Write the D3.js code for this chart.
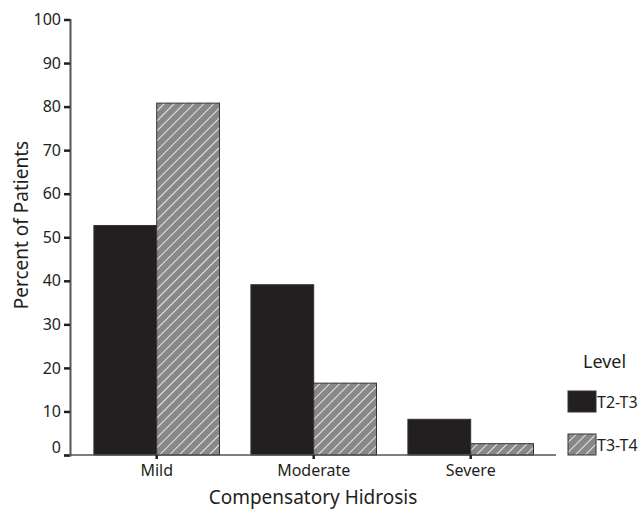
<!DOCTYPE html>
<html><head><meta charset="utf-8">
<script src="https://cdn.jsdelivr.net/npm/d3@7/dist/d3.min.js"></script>
<style>body{margin:0;background:#fff}svg{display:block}text{font-family:"Noto Sans",sans-serif;fill:#231f20}</style>
</head><body>
<script>
const categories = ["Mild", "Moderate", "Severe"];
const seriesNames = ["T2-T3", "T3-T4"];
const t2t3 = [52.7, 39.1, 8.2];
const t3t4 = [80.8, 16.5, 2.6];
const yTicks = [0, 10, 20, 30, 40, 50, 60, 70, 80, 90, 100];

const W = 643, H = 512;
const svg = d3.select("body").append("svg").attr("width", W).attr("height", H);
const defs = svg.append("defs");
const pat = defs.append("pattern").attr("id", "hatch").attr("patternUnits", "userSpaceOnUse")
  .attr("width", 7).attr("height", 7).attr("patternTransform", "rotate(45)");
pat.append("rect").attr("width", 7).attr("height", 7).attr("fill", "#888");
pat.append("line").attr("x1", 0).attr("y1", 0).attr("x2", 0).attr("y2", 7)
  .attr("stroke", "#f2f2f2").attr("stroke-width", 1.8);

const y = d3.scaleLinear().domain([0, 100]).range([455, 19.5]);
const x0 = d3.scaleBand().domain(categories).range([78.2, 549.2]).paddingInner(0.2).paddingOuter(0.1);
const x1 = d3.scaleBand().domain(seriesNames).range([0, x0.bandwidth()]);
const fills = {"T2-T3": "#231f20", "T3-T4": "url(#hatch)"};
const values = {"T2-T3": t2t3, "T3-T4": t3t4};

// bars
const g = svg.append("g");
categories.forEach((c, i) => {
  seriesNames.forEach(s => {
    g.append("rect")
      .attr("x", x0(c) + x1(s)).attr("y", y(values[s][i]))
      .attr("width", x1.bandwidth()).attr("height", y(0) - y(values[s][i]))
      .attr("fill", fills[s]).attr("stroke", "#333").attr("stroke-width", 1);
  });
});

// y axis
const yAxis = svg.append("g").attr("transform", "translate(70,0)")
  .call(d3.axisLeft(y).tickValues(yTicks).tickSize(6).tickPadding(3));
yAxis.select(".domain").attr("stroke", "#555").attr("stroke-width", 2);
yAxis.selectAll(".tick line").attr("stroke", "#231f20").attr("stroke-width", 2.5);
yAxis.selectAll(".tick text").attr("font-size", 16).style("font-family", "Noto Sans").attr("fill", "#231f20")
  .attr("dy", d => d === 0 ? "-0.18em" : "0.32em");

// x axis
svg.append("line").attr("x1", 69).attr("x2", 556).attr("y1", 455).attr("y2", 455)
  .attr("stroke", "#555").attr("stroke-width", 1.5);
const xAxis = svg.append("g").attr("transform", "translate(0,455)")
  .call(d3.axisBottom(x0).tickSize(4).tickPadding(6));
xAxis.select(".domain").remove();
xAxis.selectAll(".tick line").attr("stroke", "#231f20").attr("stroke-width", 2.5);
xAxis.selectAll(".tick text").attr("font-size", 16).style("font-family", "Noto Sans").attr("fill", "#231f20");

// axis titles
svg.append("text").attr("x", 313).attr("y", 504).attr("text-anchor", "middle")
  .attr("font-size", 19).text("Compensatory Hidrosis");
svg.append("text").attr("transform", "translate(28,225) rotate(-90)").attr("text-anchor", "middle")
  .attr("font-size", 19).text("Percent of Patients");

// legend
svg.append("text").attr("x", 583).attr("y", 368).attr("font-size", 18).text("Level");
seriesNames.forEach((s, i) => {
  const ly = 391 + i * 43;
  svg.append("rect").attr("x", 568).attr("y", ly).attr("width", 28).attr("height", 21)
    .attr("fill", fills[s]).attr("stroke", "#333").attr("stroke-width", 1);
  svg.append("text").attr("x", 597).attr("y", ly + 16.5).attr("font-size", 16).text(s);
});
</script>
</body></html>
